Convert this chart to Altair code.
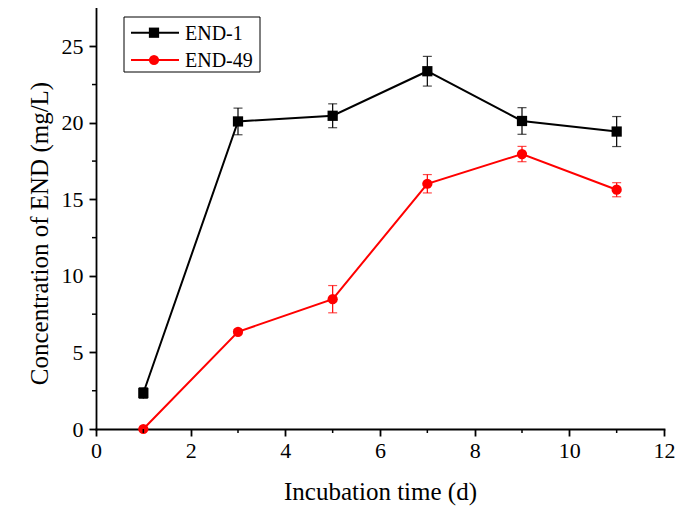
import altair as alt
import pandas as pd

# ---- data ----
days = [1, 3, 5, 7, 9, 11]
series_names = ["END-1", "END-49"]
end1 = [2.35, 20.09, 20.46, 23.37, 20.12, 19.43]
end1_err = [0.35, 0.87, 0.78, 0.97, 0.87, 0.98]
end49 = [0.0, 6.35, 8.48, 16.02, 17.96, 15.63]
end49_err = [0.0, 0.15, 0.89, 0.6, 0.5, 0.46]
x_major = [0, 2, 4, 6, 8, 10, 12]
x_minor = [1, 3, 5, 7, 9, 11]
y_major = [0, 5, 10, 15, 20, 25]
y_minor = [2.5, 7.5, 12.5, 17.5, 22.5]
colors = ["#000000", "#ff0000"]
shapes = ["square", "circle"]

rows = []
for name, vals, errs in [("END-1", end1, end1_err), ("END-49", end49, end49_err)]:
    for d, v, e in zip(days, vals, errs):
        rows.append({"day": d, "conc": v, "lo": v - e, "hi": v + e, "series": name})
df = pd.DataFrame(rows)
df_err = df[df["hi"] > df["lo"]]

W, H = 568, 421
FONT = "Liberation Serif"

xscale = alt.Scale(domain=[0, 12], nice=False)
yscale = alt.Scale(domain=[0, 27.5], nice=False)
cscale = alt.Scale(domain=series_names, range=colors)
sscale = alt.Scale(domain=series_names, range=shapes)

x_enc = alt.X("day:Q", scale=xscale, axis=alt.Axis(
    values=x_major, title="Incubation time (d)", titleFontSize=25,
    titleY=70, titleBaseline="alphabetic", labelPadding=4, format="d",
    labelFlush=False))
y_enc = alt.Y("conc:Q", scale=yscale, axis=alt.Axis(
    values=y_major, title="Concentration of END (mg/L)", titleFontSize=25,
    titleX=-49, titleY=225, titleBaseline="alphabetic", titleAngle=-90,
    titleAlign="center", labelPadding=6, labelFlush=False))

base = alt.Chart(df)

lines = base.mark_line(strokeWidth=2).encode(
    x=x_enc, y=y_enc,
    color=alt.Color("series:N", scale=cscale, legend=None),
)

err_base = alt.Chart(df_err)
err_rule = err_base.mark_rule(strokeWidth=1.2).encode(
    x="day:Q", y="lo:Q", y2="hi:Q",
    color=alt.Color("series:N", scale=cscale, legend=None),
)
cap_hi = err_base.mark_tick(orient="horizontal", size=9, thickness=1.2).encode(
    x="day:Q", y="hi:Q",
    color=alt.Color("series:N", scale=cscale, legend=None),
)
cap_lo = err_base.mark_tick(orient="horizontal", size=9, thickness=1.2).encode(
    x="day:Q", y="lo:Q",
    color=alt.Color("series:N", scale=cscale, legend=None),
)

points = base.mark_point(filled=True, size=105, opacity=1).encode(
    x="day:Q", y="conc:Q",
    color=alt.Color("series:N", scale=cscale, legend=None),
    shape=alt.Shape("series:N", scale=sscale, legend=None),
)

# minor ticks
df_xmin = pd.DataFrame({"day": x_minor})
xminor = alt.Chart(df_xmin).mark_rule(color="black", strokeWidth=1.5).encode(
    x="day:Q", y=alt.value(H), y2=alt.value(H + 4))
df_ymin = pd.DataFrame({"conc": y_minor})
yminor = alt.Chart(df_ymin).mark_rule(color="black", strokeWidth=1.5).encode(
    y="conc:Q", x=alt.value(0), x2=alt.value(-4))

# custom legend
leg_box = alt.Chart(pd.DataFrame({"a": [0]})).mark_rect(
    fill="white", stroke="black", strokeWidth=1).encode(
    x=alt.value(28), x2=alt.value(164), y=alt.value(9), y2=alt.value(64))
leg_layers = [leg_box]
for i, name in enumerate(series_names):
    yy = 24.7 + i * 27.3
    dfl = pd.DataFrame({"series": [name]})
    leg_layers.append(alt.Chart(dfl).mark_rule(strokeWidth=2, color=colors[i]).encode(
        x=alt.value(35), x2=alt.value(83), y=alt.value(yy)))
    leg_layers.append(alt.Chart(dfl).mark_point(
        filled=True, size=105, opacity=1, color=colors[i], shape=shapes[i]).encode(
        x=alt.value(58), y=alt.value(yy)))
    leg_layers.append(alt.Chart(dfl).mark_text(
        align="left", baseline="middle", font=FONT, fontSize=20, color="black", dy=1).encode(
        x=alt.value(89), y=alt.value(yy), text="series:N"))

chart = alt.layer(
    lines, err_rule, cap_hi, cap_lo, points, xminor, yminor, *leg_layers
).properties(
    width=W, height=H,
    autosize=alt.AutoSizeParams(type="none"),
    padding={"left": 88, "top": 0, "right": 13, "bottom": 80},
).configure_view(stroke=None).configure_axis(
    grid=False, domainColor="black", domainWidth=1.8, tickColor="black",
    tickWidth=1.8, tickSize=7, labelFont=FONT, labelFontSize=22,
    labelColor="black", titleFont=FONT, titleColor="black",
    titleFontWeight="normal", domainCap="square",
)

chart.save("out.html", embed_options={"renderer": "svg", "actions": False})
